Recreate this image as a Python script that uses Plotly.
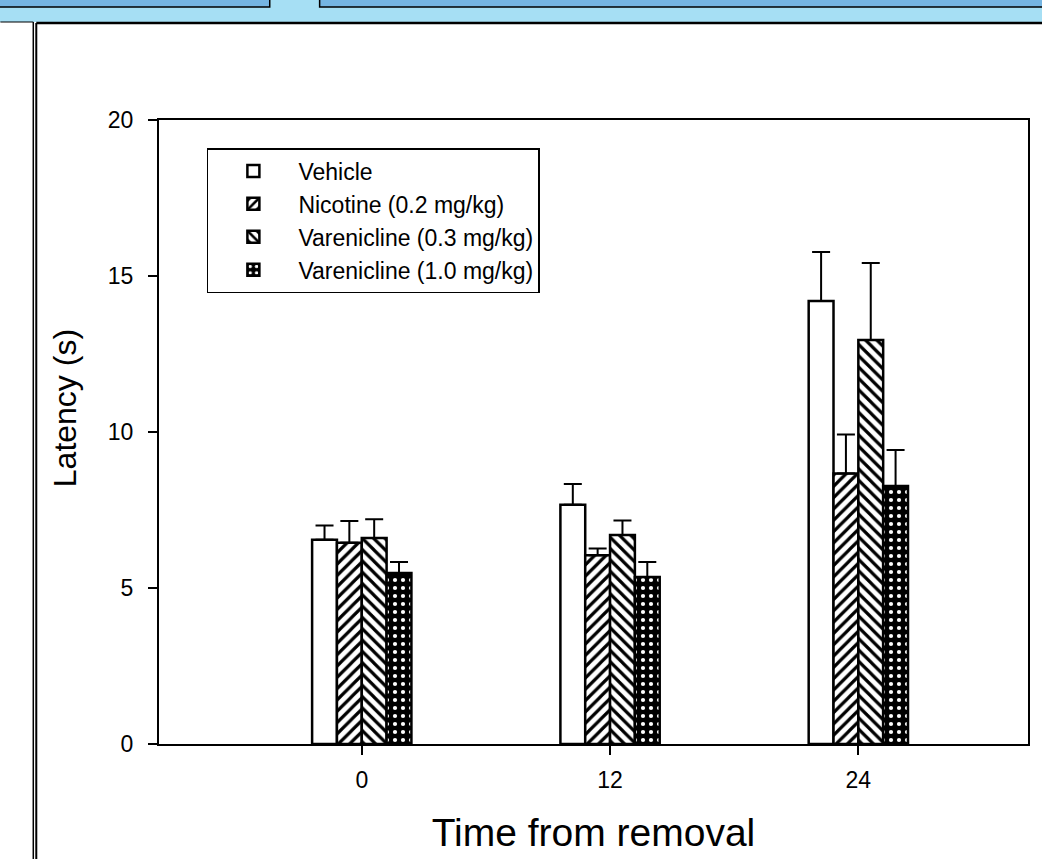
import plotly.graph_objects as go

# ---- data ----
times = [0, 12, 24]
series_names = ["Vehicle", "Nicotine (0.2 mg/kg)", "Varenicline (0.3 mg/kg)", "Varenicline (1.0 mg/kg)"]
vehicle = [6.55, 7.67, 14.2]
nicotine = [6.45, 6.05, 8.67]
varen_03 = [6.6, 6.7, 12.95]
varen_10 = [5.48, 5.35, 8.27]
vehicle_err = [0.45, 0.66, 1.57]
nicotine_err = [0.7, 0.22, 1.25]
varen_03_err = [0.6, 0.46, 2.47]
varen_10_err = [0.35, 0.48, 1.15]
y_ticks = [0, 5, 10, 15, 20]

W, H = 1042, 859
L, R, T, B = 159, 12, 120, 115
pw, ph = W - L - R, H - T - B


def px_x(px):
    return (px - L) / pw


def px_y(py):
    return (H - B - py) / ph


styles = [
    dict(shape="", fg="black", bg="white", sol=0.4),
    dict(shape="/", fg="black", bg="white", sol=0.4),
    dict(shape="\\", fg="black", bg="white", sol=0.4),
    dict(shape=".", fg="white", bg="black", sol=0.22),
]
values = [vehicle, nicotine, varen_03, varen_10]
errors = [vehicle_err, nicotine_err, varen_03_err, varen_10_err]

fig = go.Figure()
for name, vals, errs, st in zip(series_names, values, errors, styles):
    pattern = dict(shape=st["shape"], fgcolor=st["fg"], bgcolor=st["bg"],
                   size=8, solidity=st["sol"], fillmode="replace")
    fig.add_trace(go.Bar(
        x=times, y=vals, name=name,
        marker=dict(color="white" if st["shape"] == "" else st["bg"],
                    pattern=pattern,
                    line=dict(color="black", width=2.5)),
        error_y=dict(type="data", symmetric=False, array=errs,
                     arrayminus=[0] * len(errs), color="black",
                     thickness=2, width=9),
    ))


def pshape(**kw):
    d = dict(xref="paper", yref="paper")
    d.update(kw)
    return d


# slide decoration
shapes = [
    pshape(type="rect", x0=px_x(-5), x1=px_x(W + 5), y0=px_y(22), y1=px_y(-5),
           fillcolor="#A6DFF4", line=dict(width=0), layer="below"),
    pshape(type="rect", x0=px_x(-5), x1=px_x(270), y0=px_y(7), y1=px_y(-5),
           fillcolor="#75B5E2", line=dict(color="black", width=1.5), layer="below"),
    pshape(type="rect", x0=px_x(320), x1=px_x(W + 5), y0=px_y(7), y1=px_y(-5),
           fillcolor="#75B5E2", line=dict(color="black", width=1.5), layer="below"),
    pshape(type="line", x0=px_x(0), x1=px_x(33), y0=px_y(22), y1=px_y(22),
           line=dict(color="black", width=1.2)),
    pshape(type="line", x0=px_x(33), x1=px_x(33), y0=px_y(22), y1=px_y(H + 5),
           line=dict(color="black", width=1.5)),
    pshape(type="line", x0=px_x(36), x1=px_x(36), y0=px_y(23), y1=px_y(H + 5),
           line=dict(color="black", width=2)),
    pshape(type="line", x0=px_x(36), x1=px_x(W + 5), y0=px_y(23), y1=px_y(23),
           line=dict(color="black", width=2.5)),
]

annotations = [
    dict(text="Latency (s)", xref="paper", yref="paper",
         x=px_x(65), y=px_y(408), xanchor="center", yanchor="middle",
         textangle=-90, showarrow=False, font=dict(size=32, color="black")),
]

fig.update_layout(
    width=W, height=H, autosize=False,
    margin=dict(l=L, r=R, t=T, b=B),
    paper_bgcolor="white", plot_bgcolor="white",
    font=dict(family="Arial, Liberation Sans, sans-serif", color="black"),
    barmode="group", bargap=0.6, bargroupgap=0,
    shapes=shapes, annotations=annotations,
    showlegend=True,
    legend=dict(x=px_x(207), y=px_y(148), xanchor="left", yanchor="top",
                bgcolor="white", bordercolor="black", borderwidth=1.5,
                font=dict(size=23), itemwidth=80, tracegroupgap=0),
    xaxis=dict(range=[-9.8, 32.2], tickvals=times, ticktext=[str(t) for t in times],
               showline=True, linecolor="black", linewidth=2, mirror=True,
               ticks="outside", ticklen=9, tickwidth=1.5, tickcolor="black",
               tickfont=dict(size=23), ticklabelstandoff=5,
               showgrid=False, zeroline=False,
               title=dict(text="Time from removal", font=dict(size=39), standoff=27)),
    yaxis=dict(range=[0, 20], tickvals=y_ticks,
               showline=True, linecolor="black", linewidth=2, mirror=True,
               ticks="outside", ticklen=9, tickwidth=1.5, tickcolor="black",
               tickfont=dict(size=23), ticklabelstandoff=10,
               showgrid=False, zeroline=False),
)

fig.write_html("out.html", config={"displayModeBar": False},
               post_script="document.body.style.margin='0';document.body.style.overflow='hidden';")
